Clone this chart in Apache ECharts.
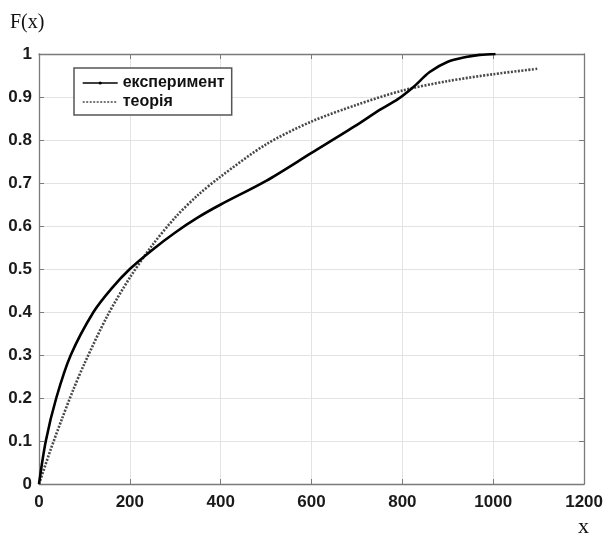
<!DOCTYPE html>
<html lang="uk">
  <head>
    <meta charset="UTF-8" />
    <title>F(x)</title>
    <script src="https://cdn.jsdelivr.net/npm/echarts@6/dist/echarts.min.js"></script>
    <style>
      html, body { margin: 0; padding: 0; background: #fff; }
    </style>
  </head>
  <body>
    <div id="main" style="width: 606px; height: 540px"></div>
    <script>
      // експериментальна функція розподілу
      var expX = [0, 15, 38, 70, 120, 160, 200, 250, 300, 350, 400, 500, 600, 700, 750, 790, 825, 860, 900, 940, 970, 1005];
      var expY = [0, 0.1, 0.2, 0.3, 0.4, 0.455, 0.5, 0.545, 0.585, 0.62, 0.65, 0.705, 0.77, 0.835, 0.87, 0.895, 0.924, 0.958, 0.982, 0.993, 0.998, 1.0];
      // теоретична функція
      var theoX = [0, 25, 50, 75, 100, 150, 200, 250, 300, 350, 400, 500, 600, 700, 800, 900, 1000, 1100];
      var theoY = [0, 0.078, 0.15, 0.218, 0.28, 0.39, 0.48, 0.556, 0.62, 0.672, 0.715, 0.79, 0.843, 0.882, 0.915, 0.937, 0.953, 0.966];
      var xTicks = ['0', '200', '400', '600', '800', '1000', '1200'];
      var yTicks = ['0', '0.1', '0.2', '0.3', '0.4', '0.5', '0.6', '0.7', '0.8', '0.9', '1'];

      function pairs(xs, ys) {
        var out = [];
        for (var i = 0; i < xs.length; i++) out.push([xs[i], ys[i]]);
        return out;
      }

      var boxColor = '#7a7a7a';
      var lblStyle = { fontFamily: 'Liberation Sans', fontWeight: 'bold', fontSize: 17, color: '#1a1a1a' };

      var mCharts = echarts.init(document.getElementById('main'), null, { renderer: 'canvas' });
      var option = {
        animation: false,
        grid: { left: 39, top: 54, right: 21, bottom: 56, containLabel: false },
        legend: {
          orient: 'vertical',
          left: 74,
          top: 68,
          padding: [7, 7, 5, 8],
          itemWidth: 35,
          itemHeight: 4,
          itemGap: 3,
          backgroundColor: '#fff',
          borderColor: '#555',
          borderWidth: 1.5,
          borderRadius: 0,
          lineStyle: { width: 1.4 },
          textStyle: { fontFamily: 'Liberation Sans', fontWeight: 'bold', fontSize: 16, color: '#111' },
          data: [
            { name: 'експеримент' },
            { name: 'теорія', itemStyle: { color: 'rgba(0,0,0,0)', borderWidth: 0 } }
          ]
        },
        xAxis: [
          {
            type: 'value', min: 0, max: 1200, interval: 200,
            axisLine: { show: true, onZero: false, lineStyle: { color: boxColor, width: 1.3 } },
            axisTick: { show: true, inside: true, length: 5, lineStyle: { color: boxColor } },
            axisLabel: Object.assign({ margin: 10, formatter: function (v) { return xTicks[Math.round(v / 200)]; } }, lblStyle),
            splitLine: { show: true, lineStyle: { color: '#e3e3e3', width: 1 } }
          },
          {
            type: 'value', position: 'top', min: 0, max: 1200, interval: 200,
            axisLine: { show: true, onZero: false, lineStyle: { color: boxColor, width: 1.3 } },
            axisTick: { show: true, inside: true, length: 5, lineStyle: { color: boxColor } },
            axisLabel: { show: false },
            splitLine: { show: false }
          }
        ],
        yAxis: [
          {
            type: 'value', min: 0, max: 1, interval: 0.1,
            axisLine: { show: true, onZero: false, lineStyle: { color: boxColor, width: 1.3 } },
            axisTick: { show: true, inside: true, length: 5, lineStyle: { color: boxColor } },
            axisLabel: Object.assign({ margin: 7, formatter: function (v) { return yTicks[Math.round(v * 10)]; } }, lblStyle),
            splitLine: { show: true, lineStyle: { color: '#e3e3e3', width: 1 } }
          },
          {
            type: 'value', position: 'right', min: 0, max: 1, interval: 0.1,
            axisLine: { show: true, onZero: false, lineStyle: { color: boxColor, width: 1.3 } },
            axisTick: { show: true, inside: true, length: 5, lineStyle: { color: boxColor } },
            axisLabel: { show: false },
            splitLine: { show: false }
          }
        ],
        graphic: [
          { type: 'text', left: 10, top: 13, style: { text: 'F(x)', font: '20px "Liberation Serif"', fill: '#111' } },
          { type: 'text', left: 578, top: 516, style: { text: 'x', font: '22px "Liberation Serif"', fill: '#111' } }
        ],
        series: [
          {
            name: 'експеримент',
            type: 'line',
            data: pairs(expX, expY),
            smooth: 0.3,
            symbol: 'circle',
            showSymbol: false,
            itemStyle: { color: '#000' },
            lineStyle: { color: '#000', width: 2.6 },
            z: 3
          },
          {
            name: 'теорія',
            type: 'line',
            data: pairs(theoX, theoY),
            smooth: 0.3,
            symbol: 'none',
            itemStyle: { color: '#484848' },
            lineStyle: { color: '#484848', width: 2.6, type: [2, 1.5] },
            z: 2
          }
        ]
      };
      mCharts.setOption(option);
    </script>
  </body>
</html>
